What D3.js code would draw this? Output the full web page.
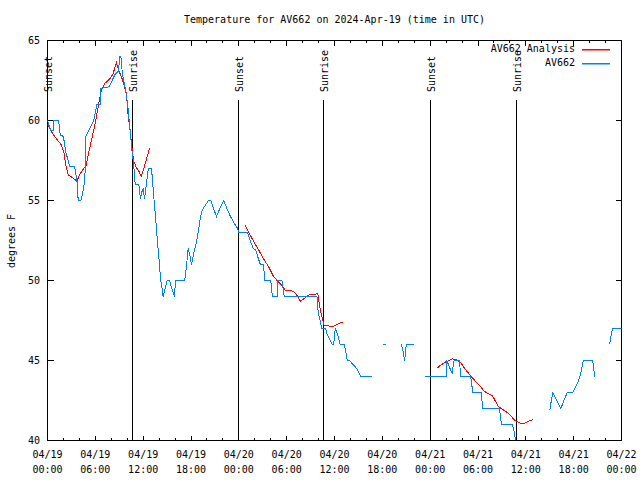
<!DOCTYPE html>
<html><head><meta charset="utf-8">
<script src="https://cdn.jsdelivr.net/npm/d3@7/dist/d3.min.js"></script>
<style>
body{margin:0;background:#fff}
text{font-family:"DejaVu Sans Mono",monospace;font-size:10px;fill:#000}
</style>
</head><body><svg id="c" width="640" height="480"></svg>
<script>
// Hours since 2024-04-19 00:00 UTC; null = missing observation
const startTime = "2024-04-19T00:00:00Z";
const titleText = "Temperature for AV662 on 2024-Apr-19 (time in UTC)";
const yLabel = "degrees F";
const seriesNames = ["AV662 Analysis", "AV662"];
const yTicks = [40, 45, 50, 55, 60, 65];

const blueHours = [0,0.38,0.75,0.8,1.4,1.6,2.0,2.26,2.8,3.4,3.7,3.85,4.2,4.55,4.77,4.8,5.4,5.8,6.0,6.2,6.6,6.7,7.7,8.1,8.5,8.9,9.07,9.2,9.4,9.8,10.1,10.2,10.4,10.6,10.8,11.0,11.45,11.67,11.8,12.0,12.17,12.4,12.6,12.7,13.0,13.1,13.3,13.55,13.75,13.96,14.2,14.4,14.5,14.8,15.0,15.3,15.6,15.93,16.05,17.2,17.3,17.5,17.65,17.85,18.06,18.35,18.6,18.8,19.0,19.2,19.4,19.8,20.2,20.5,20.9,21.2,21.7,22.1,22.5,22.95,23.4,23.8,24.0,25.1,25.5,25.8,26.1,26.3,26.7,27.1,27.25,28.0,28.2,28.8,28.9,29.4,29.7,33.8,33.96,34.2,34.4,34.9,35.1,35.4,35.7,35.9,36.1,36.4,36.7,37.2,37.4,37.6,37.9,38.2,38.6,38.9,39.3,40.7,41.4,42.1,42.5,43.4,44.4,44.6,44.8,45.0,46.0,46.7,47.4,50.05,50.1,50.4,50.75,51.0,51.7,51.8,53.06,53.15,53.35,54.4,54.6,56.7,56.95,58.3,58.55,58.7,61.0,63.0,63.2,63.4,63.9,64.4,64.7,65.2,65.9,66.2,66.6,66.9,67.2,68.4,68.5,68.65,69.5,70.5,70.7,70.9,72.0];
const blueTemps = [60,59.4,59.4,60,60,59.1,59,58.1,57.1,57.1,56.25,55,55,55.8,57.1,59,59.6,60,60.5,61,61,62,62.1,62.5,62.9,63.1,64,64,62.9,61.9,60.8,60.2,59.2,58.1,57.3,56,56,55.1,55.5,55.7,55.1,56,56.8,57,57,56.7,55.4,54,52.7,51.5,50,49.4,49,49.6,50,50,49.5,49,50,50,50.3,51.25,52,51.6,51,51.7,52.2,52.7,53.3,54,54.4,54.7,55,55,54.4,54,54.6,55,54.5,54,53.6,53.3,53,53,52.4,52,51.9,51.6,51,51,50,50,49,49,50,50,49,49,48,47.5,47,47,46.6,46.3,46,46,47,46.6,46,46,45.6,45,45,44.8,44.6,44.4,44,44,null,46,46,null,46,45.6,45,46,46,null,44,44,45,44.6,44.2,45,45,44,44,43.75,43,43,42,42,41,41,40.5,40,null,41.9,42.5,43,42.5,42,42.4,43,43,43.3,43.7,44.2,45,45,44.5,44,null,46,46.6,47,47];

const redHours = [0,0.5,0.9,1.7,2.1,2.3,2.6,3.2,3.7,4.0,4.4,4.85,5.05,5.5,5.9,6.3,6.5,6.7,7.15,7.8,8.2,8.65,8.95,9.3,9.6,9.9,10.1,10.3,10.6,10.8,11.1,11.5,11.75,12.2,12.6,12.8,18.0,24.75,25.25,25.9,26.5,27.1,27.8,28.3,28.8,29.4,29.8,30.3,30.9,31.3,31.7,32.15,32.8,33.3,33.9,34.0,34.2,34.45,34.7,35.0,35.7,36.3,37.0,42.0,48.8,49.3,49.9,50.8,51.2,51.8,52.2,52.65,53.06,53.5,53.9,54.3,54.7,55.2,55.8,56.2,56.6,57.2,57.8,58.2,58.6,59.2,59.7,60.3,60.9];
const redTemps = [59.8,59.3,59.0,58.5,57.9,57.2,56.6,56.4,56.2,56.6,56.9,57.2,57.7,58.75,59.6,60.7,61.25,61.8,62.3,62.6,62.9,63.6,63.1,62.7,62.2,61.7,60.4,59.6,58.3,57.5,57.1,56.8,56.5,57.2,57.9,58.3,null,53.5,53.0,52.4,51.9,51.35,50.8,50.3,50,49.7,49.4,49.4,49.3,49.06,48.7,48.85,49.1,49.1,49.2,48.85,48.2,47.7,47.2,47.2,47.1,47.25,47.4,null,44.5,44.7,44.9,45.1,45.06,44.9,44.6,44.3,44.06,43.8,43.6,43.4,43.1,42.96,42.8,42.45,42.1,41.9,41.7,41.5,41.25,41.1,41.04,41.2,41.3];

const sunHours = [0.0, 10.72, 24.0, 34.68, 48.04, 58.78];
const sunLabels = ["Sunset","Sunrise","Sunset","Sunrise","Sunset","Sunrise"];

const colors = ["#ff0000", "#0080ff"];

const t0 = new Date(startTime);
const toDate = h => new Date(t0.getTime() + h * 3600e3);

const L = 47.5, R = 621.5, T = 40.5, B = 440.5;
const svg = d3.select("#c");
svg.append("rect").attr("width",640).attr("height",480).attr("fill","#fff");

const x = d3.scaleUtc().domain([t0, toDate(72)]).range([L, R]);
const y = d3.scaleLinear().domain([40, 65]).range([B, T]);

// title
svg.append("text").attr("x", (L+R)/2).attr("y", 20).attr("text-anchor","middle")
  .attr("dominant-baseline","middle").text(titleText);
// y label
svg.append("text").attr("transform","translate(12,241) rotate(-90)")
  .attr("text-anchor","middle").attr("dominant-baseline","middle").text(yLabel);

const g = svg.append("g").attr("shape-rendering","crispEdges");

// y ticks (both sides)
yTicks.forEach(v => {
  g.append("line").attr("x1",L).attr("x2",L+6).attr("y1",y(v)).attr("y2",y(v)).attr("stroke","#000");
  g.append("line").attr("x1",R-6).attr("x2",R).attr("y1",y(v)).attr("y2",y(v)).attr("stroke","#000");
  svg.append("text").attr("x",40).attr("y",y(v)).attr("text-anchor","end")
    .attr("dominant-baseline","middle").text(v);
});

// x ticks
const ticks2 = x.ticks(d3.utcHour.every(2));
ticks2.forEach(t => {
  const major = t.getUTCHours() % 6 === 0;
  const len = major ? 5 : 2.5;
  g.append("line").attr("x1",x(t)).attr("x2",x(t)).attr("y1",B).attr("y2",B-len).attr("stroke","#000");
  g.append("line").attr("x1",x(t)).attr("x2",x(t)).attr("y1",T).attr("y2",T+len).attr("stroke","#000");
  if (major) {
    const tx = svg.append("text").attr("x",x(t)).attr("text-anchor","middle");
    tx.append("tspan").attr("x",x(t)).attr("y",458).text(d3.utcFormat("%m/%d")(t));
    tx.append("tspan").attr("x",x(t)).attr("y",473).text(d3.utcFormat("%H:%M")(t));
  }
});

// sun lines
sunHours.forEach((h,i) => {
  const xx = x(toDate(h));
  g.append("line").attr("x1",xx).attr("x2",xx).attr("y1",B).attr("y2",100).attr("stroke","#000");
  svg.append("text").attr("transform",`translate(${xx+1.5},92) rotate(-90)`)
    .attr("text-anchor","start").attr("dominant-baseline","middle").text(sunLabels[i]);
});

const blue = blueHours.map((h,i)=>({t:toDate(h), v:blueTemps[i]}));
const red = redHours.map((h,i)=>({t:toDate(h), v:redTemps[i]}));
const line = d3.line().defined(d=>d.v!==null).x(d=>x(d.t)).y(d=>y(d.v));

svg.append("clipPath").attr("id","pc").append("rect")
  .attr("x",L).attr("y",T).attr("width",R-L).attr("height",B-T);

svg.append("path").datum(red).attr("d",line).attr("fill","none").attr("stroke",colors[0])
  .attr("stroke-width",1).attr("shape-rendering","crispEdges").attr("clip-path","url(#pc)");
svg.append("path").datum(blue).attr("d",line).attr("fill","none").attr("stroke",colors[1])
  .attr("stroke-width",1).attr("shape-rendering","crispEdges").attr("clip-path","url(#pc)");

// frame
g.append("rect").attr("x",L).attr("y",T).attr("width",R-L).attr("height",B-T)
  .attr("fill","none").attr("stroke","#000");

// legend
seriesNames.forEach((name, i) => {
  const ly = 49 + i*14;
  svg.append("text").attr("x",575).attr("y",ly).attr("text-anchor","end")
    .attr("dominant-baseline","middle").text(name);
  svg.append("rect").attr("x",582).attr("y",ly).attr("width",28).attr("height",1.5)
    .attr("fill", colors[i]);
});
</script></body></html>
